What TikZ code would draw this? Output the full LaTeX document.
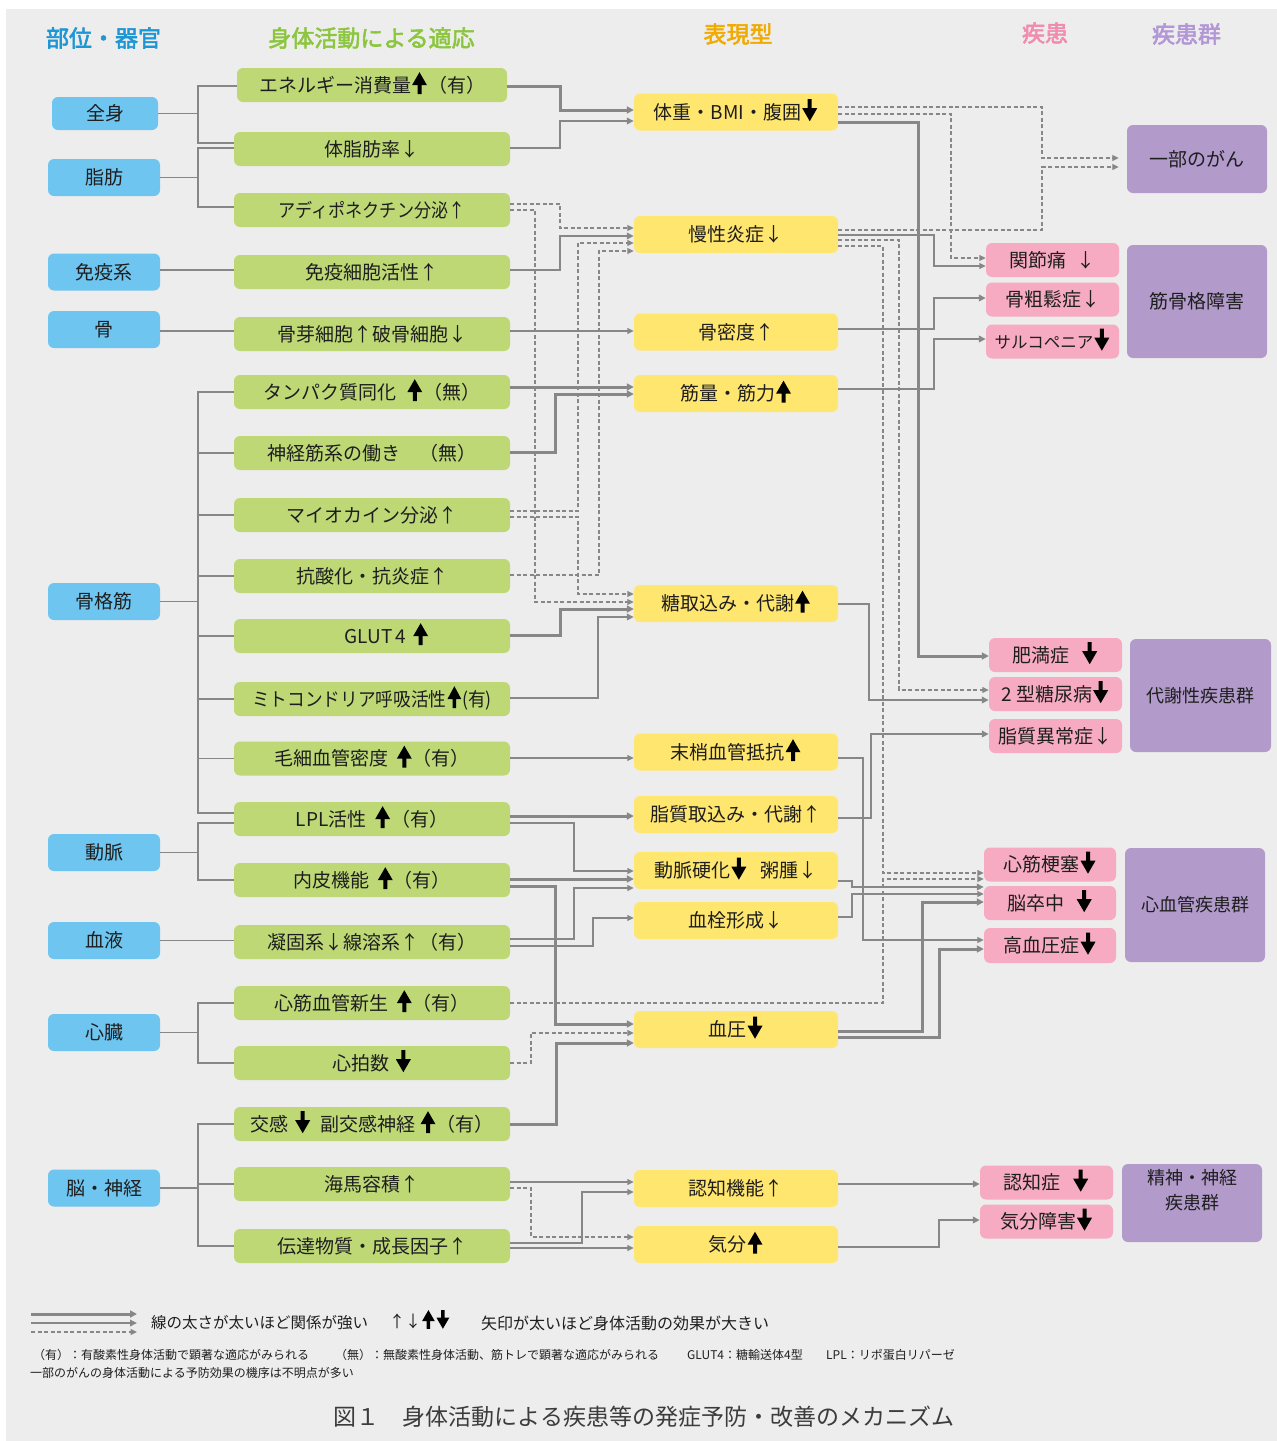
\documentclass[tikz,border=0pt]{standalone}
\usepackage{fontspec}
\setmainfont{Noto Sans CJK JP}[AutoFakeBold=2.5]
\usetikzlibrary{arrows.meta,calc}
\definecolor{cBg}{RGB}{237,237,237}
\definecolor{cBlue}{RGB}{110,197,240}
\definecolor{cGreen}{RGB}{190,216,118}
\definecolor{cYellow}{RGB}{255,230,110}
\definecolor{cPink}{RGB}{247,171,194}
\definecolor{cPurple}{RGB}{178,154,203}
\definecolor{cLine}{RGB}{135,135,135}
\definecolor{cText}{RGB}{30,30,30}
\definecolor{cCap}{RGB}{60,60,60}
\definecolor{hBlue}{RGB}{30,150,212}
\definecolor{hGreen}{RGB}{140,198,63}
\definecolor{hOrange}{RGB}{240,170,0}
\definecolor{hPink}{RGB}{240,140,175}
\definecolor{hPurple}{RGB}{178,150,214}
\newcommand{\fsz}[1]{\fontsize{#1}{25}\selectfont}
\newcommand{\upA}{\hspace{1pt}\smash{\tikz[baseline=0pt]{\fill[black, sharp corners] (-2pt,-2pt) -- (-2pt,7pt) -- (-7.5pt,7pt) -- (0pt,20pt) -- (7.5pt,7pt) -- (2pt,7pt) -- (2pt,-2pt) -- cycle;}}\hspace{1pt}}
\newcommand{\dnA}{\hspace{1pt}\smash{\tikz[baseline=0pt]{\fill[black, sharp corners] (-2pt,20pt) -- (-2pt,11pt) -- (-7.5pt,11pt) -- (0pt,-2pt) -- (7.5pt,11pt) -- (2pt,11pt) -- (2pt,20pt) -- cycle;}}\hspace{1pt}}
\begin{document}
\begin{tikzpicture}[x=1pt,y=-1pt,
  box/.style={rounded corners=6pt, inner sep=0pt, align=center, text=cText, text height=17pt, text depth=2.6pt, font=\fsz{19}},
  orgbox/.style={box, fill=cBlue, minimum width=112pt, minimum height=37pt},
  adbox/.style={box, fill=cGreen, minimum width=276pt, minimum height=34pt},
  phbox/.style={box, fill=cYellow, minimum width=204pt, minimum height=37pt},
  dibox/.style={box, fill=cPink, minimum width=133pt, minimum height=34pt},
  grbox/.style={box, fill=cPurple, minimum width=140pt},
  hdr/.style={font=\fsz{23}\bfseries, inner sep=0pt},
  ln/.style={draw=cLine},
  org/.style={ln, line width=1.5pt},
  thk/.style={ln, line width=3pt, -{Triangle[length=7pt,width=7pt]}},
  med/.style={ln, line width=2pt, -{Triangle[length=7pt,width=6.5pt]}},
  thn/.style={ln, line width=1.3pt, -{Triangle[length=6.5pt,width=6pt]}},
  dsh/.style={ln, line width=1.3pt, dash pattern=on 4pt off 2.5pt, -{Triangle[length=6.5pt,width=6pt]}},
  note/.style={anchor=west, inner sep=0pt, text=cText}
]
\useasboundingbox (0,0) rectangle (1277,1441);
\fill[cBg] (6,9) rectangle (1277,1441);

% headers
\node[hdr, text=hBlue] (h1) at (103.5,38) {部位・器官};
\node[hdr, text=hGreen] (h2) at (371.5,38) {身体活動による適応};
\node[hdr, text=hOrange] (h3) at (738,34) {表現型};
\node[hdr, text=hPink] (h4) at (1045,33) {疾患};
\node[hdr, text=hPurple] (h5) at (1186.5,34) {疾患群};

% organs
\node[orgbox, minimum width=106pt, minimum height=33pt] (o1) at (105,113.5) {全身};
\node[orgbox] (o2) at (104,177.5) {脂肪};
\node[orgbox] (o3) at (104,272) {免疫系};
\node[orgbox] (o4) at (104,329.5) {骨};
\node[orgbox] (o5) at (104,601.5) {骨格筋};
\node[orgbox] (o6) at (104,852.5) {動脈};
\node[orgbox] (o7) at (104,940.5) {血液};
\node[orgbox] (o8) at (104,1032.5) {心臓};
\node[orgbox] (o9) at (104,1188) {脳・神経};

% adaptations
\node[adbox, minimum width=270pt] (a1) at (372,85) {エネルギー消費量\upA（有）};
\node[adbox] (a2) at (372,149) {体脂肪率↓};
\node[adbox] (a3) at (372,210) {\scalebox{0.9}[1]{アディポネクチン分泌↑}};
\node[adbox] (a4) at (372,272) {免疫細胞活性↑};
\node[adbox] (a5) at (372,334) {骨芽細胞↑破骨細胞↓};
\node[adbox] (a6) at (372,392) {タンパク質同化\hspace{0.5em}\upA（無）};
\node[adbox] (a7) at (372,453) {神経筋系の働き　（無）};
\node[adbox] (a8) at (372,515) {マイオカイン分泌↑};
\node[adbox] (a9) at (372,576) {抗酸化・抗炎症↑};
\node[adbox] (a10) at (372,636) {\hspace{30pt}GLUT\,4\hspace{0.3em}\upA};
\node[adbox] (a11) at (372,699) {\scalebox{0.93}[1]{ミトコンドリア呼吸活性\upA(有)}};
\node[adbox] (a12) at (372,758.5) {毛細血管密度\hspace{0.4em}\upA（有）};
\node[adbox] (a13) at (372,819) {LPL活性\hspace{0.4em}\upA（有）};
\node[adbox] (a14) at (372,880) {内皮機能\hspace{0.4em}\upA（有）};
\node[adbox] (a15) at (372,942) {凝固系↓線溶系↑（有）};
\node[adbox] (a16) at (372,1003) {心筋血管新生\hspace{0.4em}\upA（有）};
\node[adbox] (a17) at (372,1063) {心拍数\hspace{0.3em}\dnA};
\node[adbox] (a18) at (372,1124) {交感\hspace{0.3em}\dnA\hspace{0.5em}副交感神経\hspace{0.2em}\upA（有）};
\node[adbox] (a19) at (372,1184) {海馬容積↑};
\node[adbox] (a20) at (372,1246) {伝達物質・成長因子↑};

% phenotypes
\node[phbox] (p1) at (736,112) {体重・BMI・腹囲\dnA};
\node[phbox] (p2) at (736,234.5) {慢性炎症↓};
\node[phbox] (p3) at (736,332) {骨密度↑};
\node[phbox] (p4) at (736,393.5) {筋量・筋力\upA};
\node[phbox] (p5) at (736,603.5) {糖取込み・代謝\upA};
\node[phbox] (p6) at (736,752) {末梢血管抵抗\upA};
\node[phbox] (p7) at (736,814.5) {脂質取込み・代謝↑};
\node[phbox] (p8) at (736,870.5) {動脈硬化\dnA\hspace{0.7em}粥腫↓};
\node[phbox] (p9) at (736,920.5) {血栓形成↓};
\node[phbox] (p10) at (736,1029.5) {血圧\dnA};
\node[phbox] (p11) at (736,1188.5) {認知機能↑};
\node[phbox] (p12) at (736,1244.5) {気分\upA};

% diseases
\node[dibox] (d1) at (1052.5,260) {関節痛\hspace{0.5em}↓};
\node[dibox] (d2) at (1052.5,299.5) {骨粗鬆症↓};
\node[dibox] (d3) at (1052.5,341.5) {{\fsz{16.5}サルコペニア}\dnA};
\node[dibox] (d4) at (1055.5,655) {肥満症\hspace{0.6em}\dnA};
\node[dibox] (d5) at (1055.5,694) {2\hspace{0.2em}型糖尿病\dnA};
\node[dibox] (d6) at (1055.5,736) {脂質異常症↓};
\node[dibox, minimum width=132pt] (d7) at (1050,864.5) {心筋梗塞\dnA};
\node[dibox, minimum width=132pt] (d8) at (1050,903) {脳卒中\hspace{0.6em}\dnA};
\node[dibox, minimum width=132pt, minimum height=35pt] (d9) at (1050,945.5) {高血圧症\dnA};
\node[dibox] (d10) at (1046.5,1182.5) {認知症\hspace{0.6em}\dnA};
\node[dibox] (d11) at (1046.5,1221.5) {気分障害\dnA};

% groups
\node[grbox, minimum height=68pt] (g1) at (1197,159) {一部のがん};
\node[grbox, minimum height=113pt] (g2) at (1197,301.5) {筋骨格障害};
\node[grbox, minimum height=113pt, minimum width=141pt, font=\fsz{18}, text height=16pt, text depth=2.3pt] (g3) at (1200.5,695.5) {代謝性疾患群};
\node[grbox, minimum height=114pt, font=\fsz{18}, text height=16pt, text depth=2.3pt] (g4) at (1195,905) {心血管疾患群};
\node[grbox, minimum height=78pt, font=\fsz{18}, text height=16pt, text depth=2.3pt] (g5) at (1192,1203) {精神・神経\\疾患群};

% organ trees
\draw[org] (o1.east) -- (198,0 |- o1.east);
\draw[org] (a1.west |- 0,86) -| (198,143) -- (a2.west |- 0,143);
\draw[org] (o2.east) -- (198,0 |- o2.east);
\draw[org] (a2.west |- 0,148) -| (198,207) -- (a3.west |- 0,207);
\draw[org] (o3.east |- 0,270) -- (a4.west |- 0,270);
\draw[org] (o4.east |- 0,331) -- (a5.west |- 0,331);
\draw[org] (o5.east) -- (198,0 |- o5.east);
\draw[org] (a6.west) -| (198,813) -- (a13.west |- 0,813);
\foreach \n in {a7,a8,a9,a10,a11,a12} \draw[org] (198,0 |- \n.west) -- (\n.west);
\draw[org] (o6.east) -- (198,0 |- o6.east);
\draw[org] (a13.west |- 0,823) -| (198,880) -- (a14.west |- 0,880);
\draw[org] (o7.east) -- (a15.west |- o7.east);
\draw[org] (o8.east) -- (198,0 |- o8.east);
\draw[org] (a16.west) -| (198,1063) -- (a17.west |- 0,1063);
\draw[org] (o9.east) -- (198,0 |- o9.east);
\draw[org] (a18.west) -| (198,1246) -- (a20.west |- 0,1246);
\draw[org] (198,0 |- a19.west) -- (a19.west);

% adaptation -> phenotype
\draw[thk] (a1.east |- 0,86) -- (560,86) |- (p1.west |- 0,110);
\draw[med] (a2.east |- 0,148) -- (560,148) |- (p1.west |- 0,121);
\draw[dsh] (a3.east |- 0,204) -- (560,204) |- (p2.west |- 0,228);
\draw[dsh] (a3.east |- 0,210) -- (535,210) |- (p5.west |- 0,602);
\draw[med] (a4.east |- 0,270) -- (560,270) |- (p2.west |- 0,236);
\draw[thn] (a5.east |- 0,331) -- (p3.west |- 0,331);
\draw[thk] (a6.east |- 0,387) -- (p4.west |- 0,387);
\draw[thk] (a7.east |- 0,452) -- (555,452) |- (p4.west |- 0,394);
\draw[dsh] (a8.east |- 0,511) -- (578,511) |- (p2.west |- 0,243);
\draw[dsh] (a8.east |- 0,517) -- (578,517) |- (p5.west |- 0,594);
\draw[dsh] (a9.east |- 0,575) -- (599,575) |- (p2.west |- 0,251);
\draw[thk] (a10.east |- 0,635) -- (560,635) |- (p5.west |- 0,609);
\draw[med] (a11.east |- 0,698) -- (598,698) |- (p5.west |- 0,617);
\draw[thn] (a12.east |- 0,758) -- (p6.west |- 0,758);
\draw[thk] (a13.east |- 0,816) -- (p7.west |- 0,816);
\draw[thn] (a13.east |- 0,823) -- (574,823) |- (p8.west |- 0,871);
\draw[thk] (a14.east |- 0,879) -- (p8.west |- 0,879);
\draw[thk] (a14.east |- 0,886) -- (555,886) |- (p10.west |- 0,1024);
\draw[thn] (a15.east |- 0,939) -- (574,939) |- (p8.west |- 0,888);
\draw[thn] (a15.east |- 0,946) -- (593,946) |- (p9.west |- 0,918);
\draw[dsh] (a16.east |- 0,1003) -- (883,1003) |- (d7.west |- 0,879);
\draw[dsh] (a17.east |- 0,1063) -- (531,1063) |- (p10.west |- 0,1033);
\draw[thk] (a18.east |- 0,1124) -- (556,1124) |- (p10.west |- 0,1043);
\draw[thn] (a19.east |- 0,1182) -- (p11.west |- 0,1182);
\draw[dsh] (a19.east |- 0,1188) -- (531,1188) |- (p12.west |- 0,1237);
\draw[thn] (a20.east |- 0,1243) -- (582,1243) |- (p11.west |- 0,1192);
\draw[thn] (a20.east |- 0,1248) -- (p12.west |- 0,1248);

% phenotype -> disease
\draw[dsh] (p1.east |- 0,107) -- (1042,107) |- ($(g1.west |- 0,158)+(-8,0)$);
\draw[dsh] (p1.east |- 0,114) -- (951,114) |- (d1.west |- 0,258);
\draw[thk] (p1.east |- 0,122) -- (918,122) |- (d4.west |- 0,656);
\draw[dsh] (p2.east |- 0,230) -- (1042,230) |- ($(g1.west |- 0,167)+(-8,0)$);
\draw[thn] (p2.east |- 0,235) -- (934,235) |- (d1.west |- 0,266);
\draw[dsh] (p2.east |- 0,240) -- (899,240) |- (d5.west |- 0,690);
\draw[dsh] (p2.east |- 0,246) -- (883,246) |- (d7.west |- 0,873);
\draw[med] (p3.east |- 0,329) -- (934,329) |- (d2.west |- 0,298);
\draw[med] (p4.east |- 0,389) -- (934,389) |- (d3.west |- 0,339);
\draw[med] (p5.east |- 0,604) -- (869,604) |- (d5.west |- 0,700);
\draw[thn] (p6.east |- 0,758) -- (863,758) |- (d9.west |- 0,940);
\draw[med] (p7.east |- 0,818) -- (871,818) |- (d6.west |- 0,734);
\draw[med] (p8.east |- 0,881) -- (852,881) |- (d8.west |- 0,887);
\draw[thn] (p9.east |- 0,917) -- (852,917) |- (d8.west |- 0,894);
\draw[thk] (p10.east |- 0,1031) -- (922,1031) |- (d8.west |- 0,902);
\draw[thk] (p10.east |- 0,1037) -- (939,1037) |- (d9.west |- 0,949);
\draw[med] (p11.east |- 0,1184) -- (d10.west |- 0,1184);
\draw[med] (p12.east |- 0,1247) -- (939,1247) |- (d11.west |- 0,1220);

% legend
\coordinate (lg1s) at (31,1314); \coordinate (lg1e) at (137,1314);
\coordinate (lg2s) at (31,1323); \coordinate (lg2e) at (137,1323);
\coordinate (lg3s) at (31,1332); \coordinate (lg3e) at (137,1332);
\draw[thk] (lg1s) -- (lg1e);
\draw[med] (lg2s) -- (lg2e);
\draw[dsh] (lg3s) -- (lg3e);
\node[note, font=\fsz{15.5}] (lt1) at (151,1323) {線の太さが太いほど関係が強い};
\node[note, font=\fsz{16}] (lt2) at (389,1321) {↑↓\scalebox{0.85}{\upA\dnA}};
\node[note, font=\fsz{16}] (lt3) at (481,1323) {矢印が太いほど身体活動の効果が大きい};
\node[note, font=\fsz{12}] (f1) at (33,1355) {（有）：有酸素性身体活動で顕著な適応がみられる};
\node[note, font=\fsz{12}] (f2) at (335,1355) {（無）：無酸素性身体活動、筋トレで顕著な適応がみられる};
\node[note, font=\fsz{12}] (f3) at (687,1355) {GLUT4：糖輸送体4型};
\node[note, font=\fsz{12}] (f4) at (826,1355) {LPL：リポ蛋白リパーゼ};
\node[note, font=\fsz{12}] (f5) at (30,1373) {一部のがんの身体活動による予防効果の機序は不明点が多い};
\node[inner sep=0pt, text=cCap, font=\fsz{23}] (cap) at (644,1417) {図１　身体活動による疾患等の発症予防・改善のメカニズム};
\end{tikzpicture}
\end{document}
